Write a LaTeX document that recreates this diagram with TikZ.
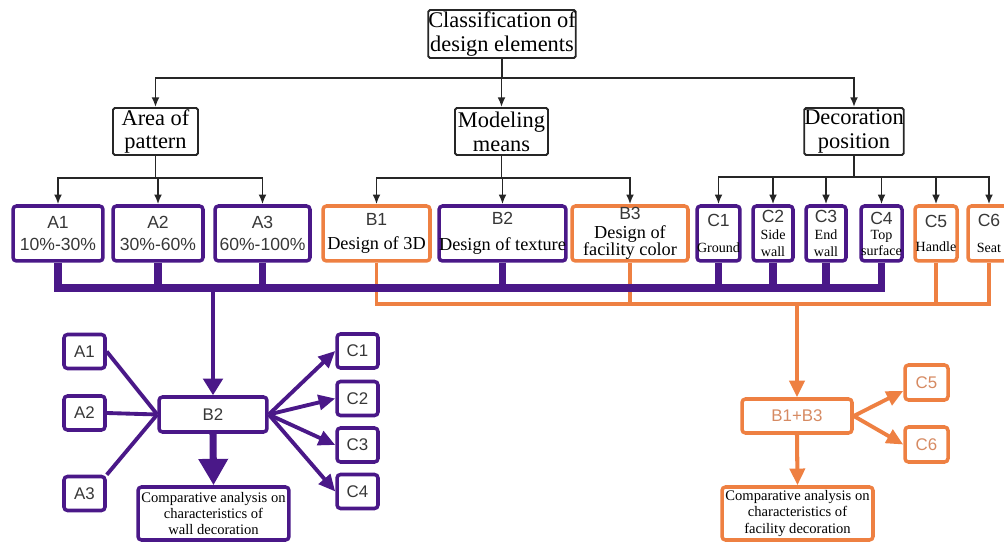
\documentclass[tikz,border=0pt]{standalone}
\usepackage{fontspec}
\setmainfont{Liberation Serif}
\setsansfont{Liberation Sans}
\usetikzlibrary{arrows.meta}

\definecolor{wallpurple}{RGB}{74,24,136}
\definecolor{facorange}{RGB}{238,128,66}
\definecolor{labelgrey}{RGB}{55,55,55}
\definecolor{labelorange}{RGB}{214,138,98}

% element code (A1, B2, ...) above its description
\newcommand{\elem}[1]{{\sffamily\fontsize{10}{12}\selectfont\color{labelgrey}#1}}

\tikzset{
  cls/.style={draw=black!85, line width=1.1pt, rounded corners=1pt, inner sep=0pt,
    align=center, font=\fontsize{12.75}{13.6}\selectfont},
  pbox/.style={draw=wallpurple, line width=2pt, rounded corners=2pt, inner sep=0pt, align=center},
  obox/.style={pbox, draw=facorange},
  tier/.style={minimum height=1.1cm},
  pct/.style={font=\sffamily\fontsize{10}{13}\selectfont, text=labelgrey},
  small/.style={minimum width=0.82cm, minimum height=0.68cm, font=\sffamily\fontsize{9.6}{11}\selectfont},
  result/.style={minimum width=3.02cm, minimum height=1.06cm, font=\fontsize{8.3}{9.35}\selectfont},
  tree/.style={draw=black!85, line width=1pt},
  treearr/.style={tree, -{Latex[length=5.5pt,width=4.5pt]}},
  pbus/.style={draw=wallpurple, line width=4pt},
  obus/.style={draw=facorange, line width=2pt},
  pline/.style={draw=wallpurple, line width=2.2pt},
  parr/.style={pline, -{Triangle[width=8.5pt,length=9.5pt]}},
  pdrop/.style={draw=wallpurple, line width=2.6pt, -{Triangle[width=11pt,length=9.5pt]}},
  pbig/.style={draw=wallpurple, line width=4pt, -{Triangle[width=16pt,length=15pt]}},
  oarr/.style={draw=facorange, line width=2.2pt, -{Triangle[width=8.5pt,length=9.5pt]}},
  odrop/.style={draw=facorange, line width=2.3pt, -{Triangle[width=8.5pt,length=9.5pt]}}
}

\begin{document}
\begin{tikzpicture}[x=0.02cm, y=-0.02cm]
  \useasboundingbox (0,0) rectangle (1004,543);

  % classification tree
  \node[cls, minimum width=2.9cm, minimum height=0.96cm] (root) at (502,34)
    {Classification of\\design elements};
  \node[cls, minimum width=1.7cm, minimum height=0.94cm] (area) at (155.5,131.5)
    {Area of\\pattern};
  \node[cls, minimum width=1.86cm, minimum height=0.94cm] (model) at (501.5,131.5)
    {Modeling\\means};
  \node[cls, minimum width=1.92cm, minimum height=0.94cm] (deco) at (854,131.5)
    {Decoration\\position};

  \node[pbox, tier, pct, minimum width=1.8cm] (A1) at (58,233.5) {A1\\10\%-30\%};
  \node[pbox, tier, pct, minimum width=1.8cm] (A2) at (158,233.5) {A2\\30\%-60\%};
  \node[pbox, tier, pct, minimum width=1.9cm] (A3) at (262.5,233.5) {A3\\60\%-100\%};

  \node[obox, tier, minimum width=2.14cm, font=\fontsize{10.4}{14}\selectfont] (B1) at (376.5,233.5)
    {\elem{B1}\\Design of 3D};
  \node[pbox, tier, minimum width=2.42cm, font=\fontsize{10.4}{14}\selectfont] (B2) at (502.5,233.5)
    {\elem{B2}\\[1pt]Design of texture};
  \node[obox, tier, minimum width=2.32cm, font=\fontsize{10.4}{14}\selectfont] (B3) at (630,233.5)
    {\elem{B3}\\[-3.2pt]Design of\\[-4.4pt]facility color};

  \node[pbox, tier, minimum width=0.82cm, font=\fontsize{8}{9.6}\selectfont] (C1) at (718.5,233.5)
    {\elem{C1}\\[5.5pt]Ground};
  \node[pbox, tier, minimum width=0.8cm, font=\fontsize{8}{9.6}\selectfont] (C2) at (773,233.5)
    {\elem{C2}\\Side\\wall};
  \node[pbox, tier, minimum width=0.8cm, font=\fontsize{8}{9.6}\selectfont] (C3) at (826,233.5)
    {\elem{C3}\\End\\wall};
  \node[pbox, tier, minimum width=0.82cm, font=\fontsize{8}{9.6}\selectfont] (C4) at (881.5,233.5)
    {\elem{C4}\\[-1pt]Top\\[-0.5pt]surface};
  \node[obox, tier, minimum width=0.84cm, font=\fontsize{8}{9.6}\selectfont] (C5) at (936,233.5)
    {\elem{C5}\\[4.5pt]Handle};
  \node[obox, tier, minimum width=0.84cm, font=\fontsize{8}{9.6}\selectfont] (C6) at (989,233.5)
    {\elem{C6}\\[5.5pt]Seat};

  \coordinate (rootj) at (502,78);
  \draw[tree] (root) -- (rootj);
  \foreach \n in {area,model,deco}
    \draw[treearr] (rootj) -| (\n.north);

  \coordinate (areaj) at (155.5,178);
  \coordinate (modelj) at (501.5,178);
  \coordinate (decoj) at (854,177);
  \draw[tree] (area) -- (areaj);
  \draw[tree] (model) -- (modelj);
  \draw[tree] (deco) -- (decoj);
  \foreach \n in {A1,A2,A3}
    \draw[treearr] (areaj) -| (\n.north);
  \foreach \n in {B1,B2,B3}
    \draw[treearr] (modelj) -| (\n.north);
  \foreach \n in {C1,C2,C3,C4,C5,C6}
    \draw[treearr] (decoj) -| (\n.north);

  % wall decoration group
  \node[pbox, small, text=labelgrey] (wA1) at (84.5,351.5) {A1};
  \node[pbox, small, text=labelgrey] (wA2) at (84.5,413) {A2};
  \node[pbox, small, text=labelgrey] (wA3) at (84.5,493.5) {A3};
  \node[pbox, small, text=labelgrey, minimum width=2.16cm, minimum height=0.7cm] (wB2) at (213,414.5) {B2};
  \node[pbox, small, text=labelgrey] (wC1) at (357.5,351) {C1};
  \node[pbox, small, text=labelgrey] (wC2) at (357.5,398.5) {C2};
  \node[pbox, small, text=labelgrey] (wC3) at (357.5,445) {C3};
  \node[pbox, small, text=labelgrey] (wC4) at (357.5,491.5) {C4};
  \node[pbox, result] (wres) at (213.5,513.5)
    {Comparative analysis on\\characteristics of\\wall decoration};

  % facility decoration group
  \node[obox, small, text=labelorange, minimum width=2.2cm] (fB) at (797,416) {B1+B3};
  \node[obox, small, text=labelorange, minimum width=0.86cm, minimum height=0.7cm] (fC5) at (926.5,382.5) {C5};
  \node[obox, small, text=labelorange, minimum width=0.86cm, minimum height=0.7cm] (fC6) at (926.5,444.5) {C6};
  \node[obox, result] (fres) at (797.5,513.5)
    {Comparative analysis on\\characteristics of\\facility decoration};

  % buses
  \coordinate (oj) at (797,304);
  \foreach \n in {B1,B3,C5,C6}
    \draw[obus] (\n.south) |- (oj);
  \draw[odrop] (oj) -- (fB.north);

  \coordinate (pj) at (213,288);
  \foreach \n in {A1,A2,A3,B2,C1,C2,C3,C4}
    \draw[pbus] (\n.south) |- (pj);
  \draw[pdrop] (pj) -- (wB2.north);

  \draw[pline] (wA1.east) -- (wB2.west);
  \draw[pline] (wA2.east) -- (wB2.west);
  \draw[pline] (wA3.north east) -- (wB2.west);
  \foreach \n in {wC1,wC2,wC3,wC4}
    \draw[parr] (wB2.east) -- (\n.west);
  \draw[pbig] (wB2.south) -- (wres.north);

  \draw[oarr] (fB.east) -- (fC5.200);
  \draw[oarr] (fB.east) -- (fC6.west);
  \draw[odrop] (fB.south) -- (fres.north);
\end{tikzpicture}
\end{document}
